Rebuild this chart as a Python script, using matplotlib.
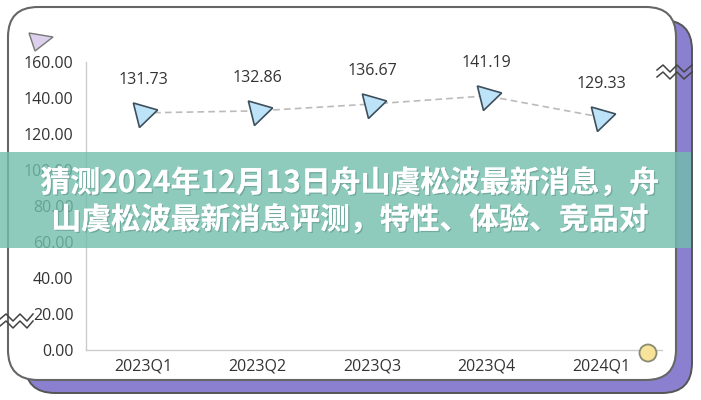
"""Quarterly index line chart with a title banner laid over it."""

import matplotlib

matplotlib.use("Agg")

import matplotlib.pyplot as plt
from matplotlib import patheffects
from matplotlib.patches import Circle, FancyBboxPatch, Polygon, Rectangle

QUARTERS = ["2023Q1", "2023Q2", "2023Q3", "2023Q4", "2024Q1"]
VALUES = [131.73, 132.86, 136.67, 141.19, 129.33]
Y_TICKS = [0, 20, 40, 60, 80, 100, 120, 140, 160]
TITLE_LINES = [
    "猜测2024年12月13日舟山虞松波最新消息，舟",
    "山虞松波最新消息评测，特性、体验、竞品对",
]

TEXT = "#333333"
SPINE = "#cccccc"
FACE = "#bde3f8"
EDGE = "#3d4f5c"
PURPLE = "#8b80d0"
BANNER = "#72bead"

plt.rcParams["font.family"] = ["Open Sans", "DejaVu Sans"]

W, H = 701, 400
fig = plt.figure(figsize=(W / 100, H / 100), dpi=100)

# pixel-space layer for the card frame (behind the chart)
bg = fig.add_axes([0, 0, 1, 1], zorder=0)
bg.set_xlim(0, W)
bg.set_ylim(H, 0)
bg.axis("off")
bg.add_patch(FancyBboxPatch((25 + 30, 20 + 30), 667 - 60, 373 - 60,
                            boxstyle="round,pad=30", facecolor=PURPLE,
                            edgecolor="#555555", linewidth=1.4))
bg.add_patch(FancyBboxPatch((8 + 30, 7 + 30), 668 - 60, 373 - 60,
                            boxstyle="round,pad=30", facecolor="white",
                            edgecolor="#666666", linewidth=1.5))

ax = fig.add_axes([86 / W, 50 / H, 576 / W, 288 / H], zorder=1)
ax.patch.set_alpha(0)
x = list(range(len(QUARTERS)))
ax.plot(x, VALUES, color="#bbbbbb", linewidth=1.2, linestyle=(0, (4, 2.5)), zorder=2)
ax.plot(x, VALUES, linestyle="none", marker=(3, 0, -76), markersize=21,
        markerfacecolor=FACE, markeredgecolor=EDGE, markeredgewidth=1.2, zorder=3)
for xi, value in zip(x, VALUES):
    ax.annotate(f"{value:.2f}", (xi, value), xytext=(0, 24), textcoords="offset points",
                ha="center", va="center", fontsize=11.5, color=TEXT)
ax.set_xlim(-0.5, 4.53)
ax.set_ylim(0, 160)
ax.set_xticks(x, QUARTERS)
ax.set_yticks(Y_TICKS, [f"{t:.2f}" for t in Y_TICKS])
ax.tick_params(length=0, labelsize=11.5, labelcolor=TEXT)
ax.tick_params(axis="y", pad=9)
ax.tick_params(axis="x", pad=6)
for side in ("top", "right"):
    ax.spines[side].set_visible(False)
for side in ("left", "bottom"):
    ax.spines[side].set_color(SPINE)
    ax.spines[side].set_linewidth(1.0)

# pixel-space layer for the banner and small ornaments (in front)
fg = fig.add_axes([0, 0, 1, 1], zorder=2)
fg.set_xlim(0, W)
fg.set_ylim(H, 0)
fg.axis("off")
fg.patch.set_alpha(0)
fg.add_patch(Polygon([(29, 33), (53, 37), (35, 51)], closed=True,
                     facecolor="#dcd0ec", edgecolor="#777777", linewidth=1.0))
fg.add_patch(Circle((648, 353), 8.5, facecolor="#f7e39a", edgecolor="#8a8a70", linewidth=1.3))
for dy in (0, 7):
    fg.plot([657, 663, 670, 677, 684, 692], [70 + dy, 65 + dy, 72 + dy, 65 + dy, 72 + dy, 65 + dy],
            color="#444444", linewidth=1.1)
    fg.plot([0, 6, 13, 20, 27, 33], [319 + dy, 314 + dy, 321 + dy, 314 + dy, 321 + dy, 314 + dy],
            color="#444444", linewidth=1.1)
fg.add_patch(Rectangle((0, 152), 691, 96, facecolor=BANNER, alpha=0.8, edgecolor="none"))
shadow = [patheffects.withSimplePatchShadow(offset=(1, -1), shadow_rgbFace="#3f6f68", alpha=0.35),
          patheffects.Normal()]
for y, line in zip((183, 220), TITLE_LINES):
    fg.text(350, y, line, ha="center", va="center", color="white", fontsize=21.5,
            fontweight="bold", family=["Noto Sans CJK SC", "DejaVu Sans"], path_effects=shadow)

fig.savefig("out.png", dpi=100)
plt.close(fig)
